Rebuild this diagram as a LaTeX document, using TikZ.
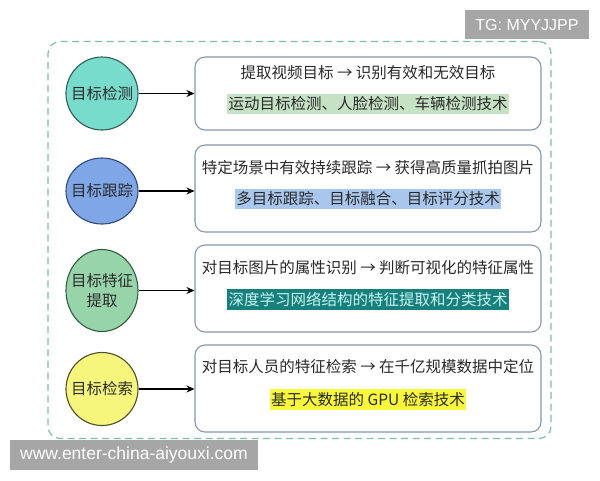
\documentclass[tikz,border=0pt]{standalone}
\usepackage{fontspec}
\setmainfont{Liberation Sans}
\newfontfamily\cjk{Noto Sans CJK SC}
\usetikzlibrary{shapes.geometric,arrows.meta}
\definecolor{dashc}{HTML}{7DBFA6}
\definecolor{boxc}{HTML}{8A96AE}
\definecolor{cA}{HTML}{78DCCC}\definecolor{cAd}{HTML}{2E5E58}
\definecolor{cB}{HTML}{7FA6E6}\definecolor{cBd}{HTML}{2E4A7E}
\definecolor{cC}{HTML}{98D4AA}\definecolor{cCd}{HTML}{2F5E3E}
\definecolor{cD}{HTML}{F6F67C}\definecolor{cDd}{HTML}{4E4E2A}
\definecolor{hA}{HTML}{C6E2C4}
\definecolor{hB}{HTML}{A9C7EC}
\definecolor{hC}{HTML}{17807C}\definecolor{hCt}{HTML}{C8F4F0}
\definecolor{hD}{HTML}{F8F83A}
\definecolor{wm}{HTML}{A6A6A6}
\definecolor{txt}{HTML}{2A2A2A}
\begin{document}
\begin{tikzpicture}[x=1pt,y=-1pt,
  circ/.style={ellipse,draw,line width=1.1pt,minimum width=72pt,inner sep=0pt},
  ctext/.style={align=center,inner sep=0pt,font=\cjk\fontsize{15.5}{20}\selectfont,text=txt},
  bigbox/.style={draw=boxc,line width=1.1pt,rounded corners=10pt,minimum width=346pt,fill=white},
  line/.style={font=\cjk\fontsize{15.5}{18}\selectfont,text=txt,inner sep=0pt},
  hl/.style={font=\cjk\fontsize{15.5}{18}\selectfont,text=txt,inner xsep=1.5pt,inner ysep=3pt},
  conn/.style={-{Stealth[length=8pt,width=7pt]},line width=1.5pt,black},
  wmbox/.style={fill=wm,text=white,inner sep=0pt}]
\useasboundingbox (0,0) rectangle (600,480);
\fill[white] (0,0) rectangle (600,480);
% outer dashed frame
\node[draw=dashc,dash pattern=on 7pt off 4.5pt,line width=1.2pt,rounded corners=12pt,
  minimum width=503pt,minimum height=397pt,inner sep=0pt] (frame) at (299.5,240) {};
% boxes
\node[bigbox,minimum height=73pt] (b1) at (368,93.5) {};
\node[bigbox,minimum height=87pt] (b2) at (368,188.5) {};
\node[bigbox,minimum height=87pt] (b3) at (368,288.5) {};
\node[bigbox,minimum height=87pt] (b4) at (368,388.5) {};
% circles
\node[circ,fill=cA,draw=cAd,minimum height=73pt] (c1) at (102,93.5) {};
\node[circ,fill=cB,draw=cBd,minimum height=66pt] (c2) at (102,191) {};
\node[circ,fill=cC,draw=cCd,minimum height=82pt] (c3) at (102,290.5) {};
\node[circ,fill=cD,draw=cDd,minimum height=73pt] (c4) at (102,389) {};
\node[ctext] (l1) at (c1.center) {目标检测};
\node[ctext] (l2) at (c2.center) {目标跟踪};
\node[ctext] (l3) at (c3.center) {目标特征\\提取};
\node[ctext] (l4) at (c4.center) {目标检索};
% text lines
\node[line] (t1) at (368,73) {提取视频目标 → 识别有效和无效目标};
\node[hl,fill=hA] (h1) at (368,104) {运动目标检测、人脸检测、车辆检测技术};
\node[line] (t2) at (368,168) {特定场景中有效持续跟踪 → 获得高质量抓拍图片};
\node[hl,fill=hB] (h2) at (368,199) {多目标跟踪、目标融合、目标评分技术};
\node[line] (t3) at (368,268) {对目标图片的属性识别 → 判断可视化的特征属性};
\node[hl,fill=hC,text=hCt] (h3) at (368,299.5) {深度学习网络结构的特征提取和分类技术};
\node[line] (t4) at (368,367) {对目标人员的特征检索 → 在千亿规模数据中定位};
\node[hl,fill=hD] (h4) at (368,399.5) {基于大数据的 GPU 检索技术};
% connectors
\draw[conn] (c1.east) -- (c1.east -| b1.west);
\draw[conn] (c2.east) -- (c2.east -| b2.west);
\draw[conn] (c3.east) -- (c3.east -| b3.west);
\draw[conn] (c4.east) -- (c4.east -| b4.west);
% watermarks
\node[wmbox,minimum width=124pt,minimum height=29pt,font=\fontsize{16}{18}\selectfont] (wm1) at (527,24.5) {TG: MYYJJPP};
\node[wmbox,minimum width=248pt,minimum height=30pt,font=\fontsize{17.5}{20}\selectfont] (wm2) at (134,455) {www.enter-china-aiyouxi.com};
\end{tikzpicture}
\end{document}
